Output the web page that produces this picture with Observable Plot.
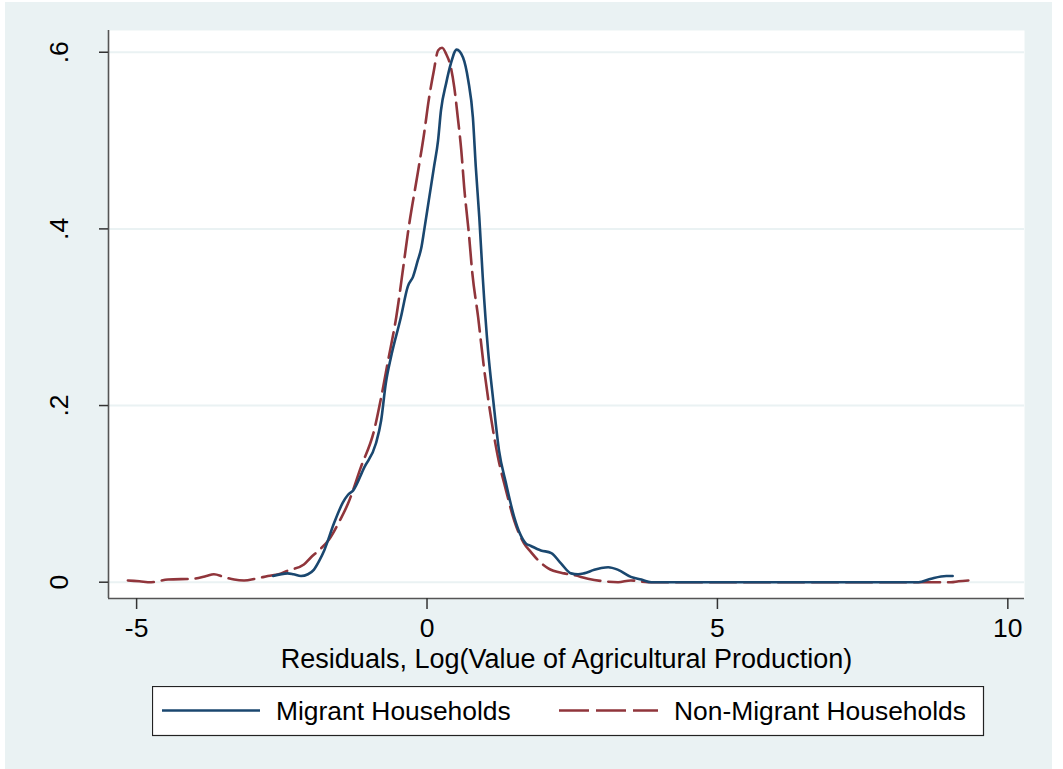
<!DOCTYPE html>
<html>
<head>
<meta charset="utf-8">
<script src="https://cdn.jsdelivr.net/npm/d3@7"></script>
<script src="https://cdn.jsdelivr.net/npm/@observablehq/plot@0.6"></script>
<style>
  body { margin: 0; background: #ffffff; }
  #wrap { position: relative; width: 1063px; height: 769px; background: #ffffff; font-family: "Liberation Sans", Arial, sans-serif; overflow: hidden; }
  #bg { position: absolute; left: 5px; top: 2px; width: 1047px; height: 767px; background: #eaf2f3; }
  #chart { position: absolute; left: 0; top: 0; }
  #legend { position: absolute; left: 152px; top: 686px; }
</style>
</head>
<body>
<div id="wrap">
  <div id="bg"></div>
  <div id="chart"></div>
  <div id="legend"></div>
</div>
<script>
// ---- Data ----
const seriesNames = ["Migrant Households", "Non-Migrant Households"];
const seriesColors = ["#1a476f", "#90353b"];

const migrantX = [-2.65, -2.40, -2.30, -2.17, -2.05, -1.95, -1.85, -1.77, -1.60, -1.45, -1.36, -1.27, -1.08, -0.88, -0.79, -0.71, -0.62, -0.45, -0.33, -0.24, -0.16, -0.10, -0.05, 0.03, 0.12, 0.19, 0.24, 0.33, 0.41, 0.51, 0.62, 0.71, 0.79, 0.84, 0.90, 0.96, 1.05, 1.14, 1.24, 1.36, 1.50, 1.60, 1.70, 1.79, 1.96, 2.14, 2.31, 2.48, 2.60, 2.70, 2.88, 3.00, 3.12, 3.29, 3.51, 3.69, 3.86, 5.0, 6.0, 7.0, 8.0, 8.46, 8.68, 8.94, 9.05];
const migrantY = [0.007, 0.010, 0.009, 0.007, 0.009, 0.014, 0.025, 0.036, 0.067, 0.090, 0.099, 0.104, 0.130, 0.157, 0.183, 0.225, 0.255, 0.300, 0.335, 0.346, 0.364, 0.378, 0.398, 0.432, 0.470, 0.500, 0.534, 0.565, 0.587, 0.603, 0.594, 0.568, 0.526, 0.470, 0.413, 0.345, 0.263, 0.206, 0.149, 0.112, 0.074, 0.055, 0.044, 0.041, 0.036, 0.033, 0.021, 0.010, 0.009, 0.010, 0.014, 0.016, 0.017, 0.014, 0.006, 0.003, 0.000, 0.000, 0.000, 0.000, 0.000, 0.000, 0.004, 0.007, 0.007];

const nonMigrantX = [-5.15, -4.95, -4.75, -4.46, -4.01, -3.80, -3.67, -3.50, -3.32, -3.15, -2.95, -2.74, -2.51, -2.40, -2.12, -2.00, -1.88, -1.69, -1.50, -1.36, -1.14, -0.91, -0.79, -0.67, -0.53, -0.40, -0.33, -0.16, -0.05, 0.03, 0.12, 0.19, 0.26, 0.33, 0.41, 0.47, 0.53, 0.59, 0.64, 0.72, 0.78, 0.88, 0.98, 1.10, 1.22, 1.36, 1.50, 1.67, 1.79, 1.91, 2.08, 2.36, 2.53, 2.77, 3.05, 3.29, 3.51, 3.80, 5.0, 6.0, 7.0, 8.0, 9.02, 9.15, 9.32];
const nonMigrantY = [0.002, 0.001, 0.000, 0.003, 0.004, 0.007, 0.009, 0.006, 0.003, 0.002, 0.004, 0.007, 0.010, 0.013, 0.020, 0.028, 0.035, 0.048, 0.070, 0.089, 0.130, 0.172, 0.209, 0.251, 0.300, 0.361, 0.395, 0.463, 0.508, 0.546, 0.580, 0.602, 0.605, 0.598, 0.583, 0.560, 0.526, 0.489, 0.447, 0.395, 0.350, 0.300, 0.243, 0.187, 0.142, 0.104, 0.070, 0.044, 0.034, 0.025, 0.016, 0.010, 0.008, 0.004, 0.001, 0.000, 0.002, 0.000, 0.000, 0.000, 0.000, 0.000, 0.000, 0.001, 0.002];

const xTicks = [-5, 0, 5, 10];
const xTickLabels = ["-5", "0", "5", "10"];
const yTicks = [0, 0.2, 0.4, 0.6];
const yTickLabels = ["0", ".2", ".4", ".6"];
const xTitle = "Residuals, Log(Value of Agricultural Production)";

const xDomain = [-5.484, 10.287];
const yDomain = [-0.01845, 0.6246];

const FONT = "Liberation Sans, Arial, sans-serif";

const chart = Plot.plot({
  width: 1063,
  height: 769,
  marginLeft: 108,
  marginRight: 39,
  marginTop: 30,
  marginBottom: 171,
  x: { domain: xDomain, label: null },
  y: { domain: yDomain, label: null },
  style: { background: "transparent", fontFamily: FONT, color: "#000" },
  marks: [
    Plot.frame({ fill: "#ffffff", stroke: "none" }),
    Plot.ruleY(yTicks, { stroke: "#eaf2f3", strokeWidth: 2 }),
    Plot.line(nonMigrantY, {
      x: nonMigrantX, y: nonMigrantY,
      stroke: seriesColors[1], strokeWidth: 2.6, strokeDasharray: "26,8",
      curve: "monotone-x"
    }),
    Plot.line(migrantY, {
      x: migrantX, y: migrantY,
      stroke: seriesColors[0], strokeWidth: 2.6,
      curve: "monotone-x"
    }),
    // axis lines
    Plot.ruleX([xDomain[0]], { stroke: "#555555", strokeWidth: 1.6 }),
    Plot.ruleY([yDomain[0]], { stroke: "#555555", strokeWidth: 1.6 }),
    // x axis ticks + labels
    Plot.axisX(xTicks, {
      tickSize: 11, tickPadding: 9, fontSize: 26.5,
      stroke: "#333333", strokeWidth: 1.5, fill: "#000",
      tickFormat: (d) => xTickLabels[xTicks.indexOf(d)],
      label: null
    }),
    // y axis ticks only
    Plot.axisY(yTicks, {
      tickSize: 9, stroke: "#333333", strokeWidth: 1.5, fill: "none",
      tickFormat: () => "", label: null
    }),
    // y tick labels, rotated
    Plot.text(yTicks, {
      y: (d) => d,
      text: (d, i) => yTickLabels[i],
      frameAnchor: "left",
      dx: -41,
      rotate: -90,
      textAnchor: "middle",
      lineAnchor: "bottom",
      fontSize: 26.5,
      fill: "#000"
    }),
    // x axis title
    Plot.text([xTitle], {
      text: (d) => d,
      frameAnchor: "bottom",
      dy: 69,
      lineAnchor: "bottom",
      textAnchor: "middle",
      fontSize: 27,
      fill: "#000"
    })
  ]
});
document.getElementById("chart").appendChild(chart);

// ---- Legend (below the plot area) ----
const lg = d3.select("#legend").append("svg")
  .attr("width", 833).attr("height", 51)
  .style("font-family", FONT);
lg.append("rect").attr("x", 0.5).attr("y", 0.5).attr("width", 831).attr("height", 49)
  .attr("fill", "#fff").attr("stroke", "#222").attr("stroke-width", 1.2);
const items = [
  { name: seriesNames[0], color: seriesColors[0], dash: null, x0: 10, x1: 108, tx: 124 },
  { name: seriesNames[1], color: seriesColors[1], dash: "30,7", x0: 407, x1: 506, tx: 522 }
];
items.forEach((it) => {
  const ln = lg.append("line").attr("x1", it.x0).attr("x2", it.x1).attr("y1", 24.5).attr("y2", 24.5)
    .attr("stroke", it.color).attr("stroke-width", 2.6);
  if (it.dash) ln.attr("stroke-dasharray", it.dash);
  lg.append("text").attr("x", it.tx).attr("y", 34).attr("font-size", 26.4).attr("fill", "#000").text(it.name);
});
</script>
</body>
</html>
